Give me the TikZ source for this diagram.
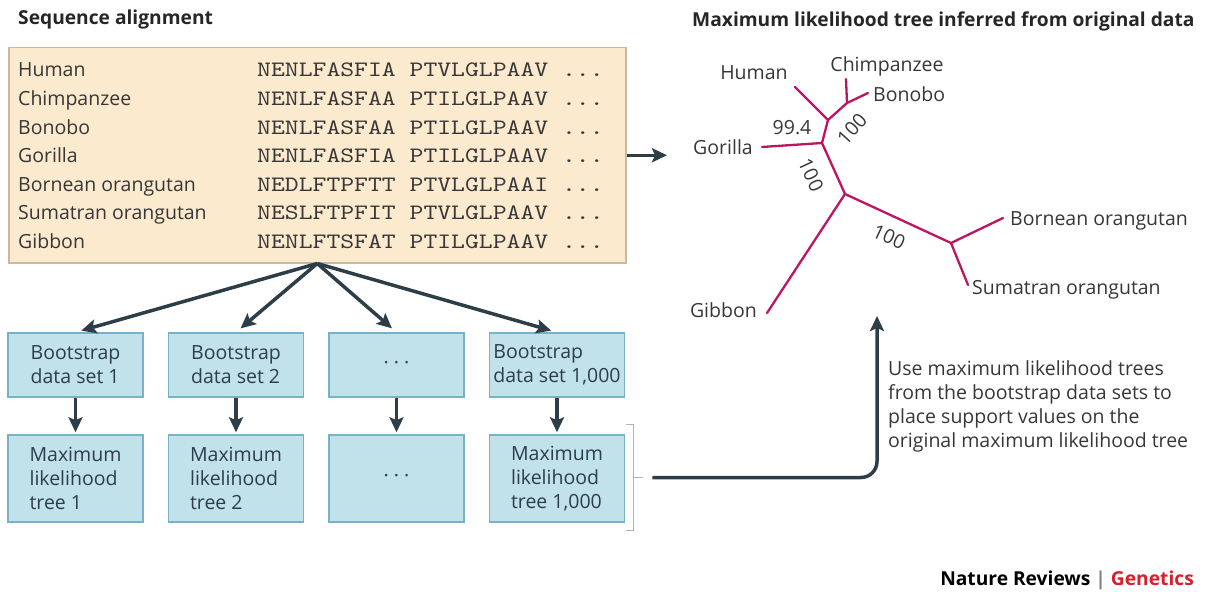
\documentclass[tikz,border=0pt]{standalone}
\usepackage{fontspec}
\setmainfont{Open Sans}
\newfontfamily\seqfont{lmmono10-regular.otf}[FakeStretch=1.2]
\usetikzlibrary{positioning,arrows.meta,calc}

\definecolor{peach}{RGB}{252,234,207}
\definecolor{peachline}{RGB}{200,186,162}
\definecolor{boxblue}{RGB}{193,225,235}
\definecolor{boxline}{RGB}{120,178,198}
\definecolor{slate}{RGB}{45,62,72}
\definecolor{treepink}{RGB}{188,22,98}
\definecolor{txt}{RGB}{55,55,55}
\definecolor{natred}{RGB}{214,32,44}

\tikzset{
  fat/.style={-{Stealth[length=15pt,width=14pt,inset=3pt]}, line width=3.5pt, draw=slate},
  bsbox/.style={draw=boxline, line width=1.5pt, fill=boxblue, minimum width=135pt, text=slate, align=left, inner sep=0pt},
  branch/.style={draw=treepink, line width=2.3pt, line cap=round},
  taxon/.style={text=txt, inner sep=0pt},
  heading/.style={inner sep=0pt, text=black!85, font=\fontsize{19.2}{24}\selectfont\bfseries},
  bracket/.style={draw=gray!60, line width=0.9pt}
}

\begin{document}
\begin{tikzpicture}[x=1pt, y=-1pt, node distance=24pt, font=\fontsize{19.5}{24}\selectfont]
\useasboundingbox (0,0) rectangle (1206,591);

% alignment
\node (head1) [heading, anchor=base west] at (18,25) {Sequence alignment};
\node (align) [draw=peachline, line width=1.5pt, fill=peach, minimum width=617pt, minimum height=215pt, anchor=north west, inner sep=0pt] at (8,47) {};
\foreach \nm/\sq [count=\i] in {Human/NENLFASFIA PTVLGLPAAV,
    Chimpanzee/NENLFASFAA PTILGLPAAV,
    Bonobo/NENLFASFAA PTILGLPAAV,
    Gorilla/NENLFASFIA PTILGLPAAV,
    Bornean orangutan/NEDLFTPFTT PTVLGLPAAI,
    Sumatran orangutan/NESLFTPFIT PTVLGLPAAV,
    Gibbon/NENLFTSFAT PTILGLPAAV}{
  \node (tx\i) [taxon, anchor=base west] at (18,48.5+28.5*\i) {\nm};
  \node (seq\i) [taxon, anchor=base west, font=\seqfont\fontsize{22}{24}\selectfont] at (257,48.5+28.5*\i) {\sq{} ...};
}

% bootstrap data sets
\node (bs1) [bsbox, minimum height=64pt] at (75.5,365) {Bootstrap\\data set 1};
\node (bs2) [bsbox, minimum height=64pt, right=of bs1] {Bootstrap\\data set 2};
\node (bs3) [bsbox, minimum height=64pt, right=of bs2] {· · ·};
\node (bs4) [bsbox, minimum height=64pt, right=of bs3] {Bootstrap\\data set 1,000};

\node (ml1) [bsbox, minimum height=87pt, below=36.5pt of bs1] {Maximum\\likelihood\\tree 1};
\node (ml2) [bsbox, minimum height=87pt, below=36.5pt of bs2] {Maximum\\likelihood\\tree 2};
\node (ml3) [bsbox, minimum height=87pt, below=36.5pt of bs3] {· · ·};
\node (ml4) [bsbox, minimum height=87pt, below=36.5pt of bs4] {Maximum\\likelihood\\tree 1,000};

\foreach \b in {bs1,bs2,bs3,bs4}
  \draw[fat, shorten >=6pt] (align.south) -- (\b.north);
\foreach \i in {1,...,4}
  \draw[fat, shorten >=2pt] (bs\i) -- (ml\i);

% bracket and arrow back to the tree
\coordinate (brt) at ([xshift=8pt,yshift=10pt]ml4.north east);
\coordinate (brb) at ([xshift=8pt,yshift=-8pt]ml4.south east);
\coordinate (brm) at ($(brt)!0.5!(brb)$);
\draw[bracket] ([xshift=-7pt]brt) -- (brt) -- (brb) -- ([xshift=-7pt]brb);
\draw[bracket] (brm) -- ([xshift=10pt]brm);
\coordinate (up) at (877,316);
\draw[fat, rounded corners=16pt] ([xshift=19pt]brm) -| (up);

\node (note) [taxon, anchor=north west, align=left] at (888,360) {Use maximum likelihood trees\\from the bootstrap data sets to\\place support values on the\\original maximum likelihood tree};

% tree
\node (head2) [heading, anchor=base west] at (692,27) {Maximum likelihood tree inferred from original data};
\draw[fat, shorten >=25pt] (align.east) -- (align.east -| 692,0);

\node (human) [taxon, anchor=base] at (754,80) {Human};
\node (chimp) [taxon, anchor=base] at (887,72) {Chimpanzee};
\node (bonobo) [taxon, anchor=base west] at (873,102) {Bonobo};
\node (gorilla) [taxon, anchor=base east] at (753,154) {Gorilla};
\node (gibbon) [taxon, anchor=base east] at (757,317) {Gibbon};
\node (borneo) [taxon, anchor=base west] at (1010,225) {Bornean orangutan};
\node (sumatra) [taxon, anchor=base west] at (972,294) {Sumatran orangutan};

\coordinate (hum) at (795,87);
\coordinate (chi) at (846,79);
\coordinate (bon) at (868,93);
\coordinate (gor) at (762,147);
\coordinate (gib) at (767,313);
\coordinate (bor) at (1003,218);
\coordinate (sum) at (968,285);
\coordinate (cb) at (847,103);
\coordinate (hc) at (828,120);
\coordinate (gn) at (822,143);
\coordinate (root) at (845,194);
\coordinate (on) at (951,243);

\draw[branch] (cb) -- (chi);
\draw[branch] (cb) -- (bon);
\draw[branch] (hc) -- (hum);
\draw[branch] (hc) -- (cb);
\draw[branch] (gn) -- (hc);
\draw[branch] (gn) -- (gor);
\draw[branch] (root) -- (gn);
\draw[branch] (root) -- (gib);
\draw[branch] (root) -- (on);
\draw[branch] (on) -- (bor);
\draw[branch] (on) -- (sum);

\node (v994) [taxon, anchor=base] at (792,134) {99.4};
\node (va) [taxon, rotate=48] at (852,129) {100};
\node (vb) [taxon, rotate=-65] at (811,175) {100};
\node (vc) [taxon, rotate=-25] at (889,237) {100};

\node (credit) [heading, anchor=base east, text=black] at (1194,585) {Nature Reviews {\color{gray}|} \textcolor{natred}{Genetics}};
\end{tikzpicture}
\end{document}
